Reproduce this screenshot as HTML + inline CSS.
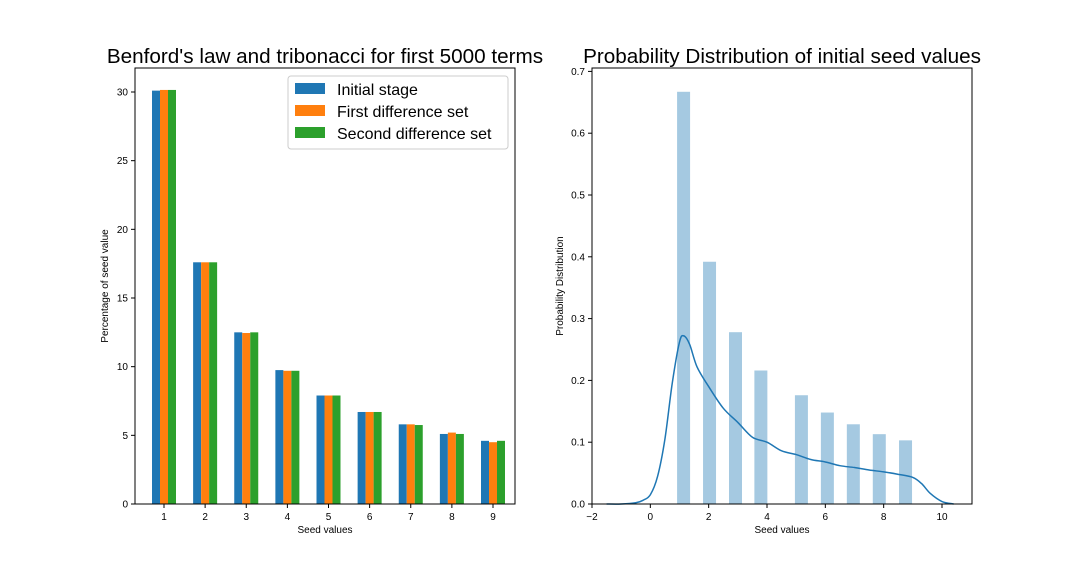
<!DOCTYPE html>
<html><head><meta charset="utf-8"><style>
body{margin:0;background:#fff;font-family:"Liberation Sans",sans-serif}
svg text{font-family:"Liberation Sans",sans-serif;fill:#000}
</style></head><body>
<svg id="c" width="1080" height="576"></svg>
<script>
const digits=[1,2,3,4,5,6,7,8,9];
const initialStage=[30.1,17.6,12.5,9.75,7.9,6.7,5.8,5.1,4.6];
const firstDiff=[30.15,17.6,12.45,9.7,7.9,6.7,5.8,5.2,4.5];
const secondDiff=[30.15,17.6,12.5,9.7,7.9,6.7,5.75,5.1,4.6];
const leftYTicks=[0,5,10,15,20,25,30];
const histCenters=[1.14,2.03,2.92,3.79,5.18,6.07,6.96,7.85,8.75];
const histHeights=[0.667,0.392,0.278,0.216,0.176,0.148,0.129,0.113,0.103];
const kdeX=[-1.5,-1,-0.5,-0.25,0,0.25,0.5,0.75,1,1.15,1.35,1.6,2,2.5,3,3.5,4,4.5,5,5.5,6,6.5,7,7.5,8,8.5,9,9.3,9.6,10,10.4];
const kdeY=[0,0,0.002,0.006,0.015,0.045,0.105,0.195,0.262,0.272,0.258,0.222,0.19,0.155,0.132,0.108,0.1,0.086,0.08,0.072,0.068,0.062,0.059,0.055,0.052,0.048,0.043,0.033,0.017,0.004,0];
const rightXTicks=[-2,0,2,4,6,8,10];
const rightYTicks=[0,0.1,0.2,0.3,0.4,0.5,0.6,0.7];

const NS="http://www.w3.org/2000/svg",svg=document.getElementById('c');
function el(t,a,p){const e=document.createElementNS(NS,t);for(const k in a)e.setAttribute(k,a[k]);(p||svg).appendChild(e);return e;}
function txt(s,a,p){const e=el('text',a,p);e.textContent=s;return e;}

const L={x0:135,x1:515,y0:504,y1:68};
const lx=v=>164+(v-1)*41.125;
const ly=v=>504-v*(412/30);
const lg=el('g',{});


const series=[[initialStage,'#1f77b4',-8],[firstDiff,'#ff7f0e',0],[secondDiff,'#2ca02c',8]];
series.forEach(([vals,col,off],si)=>{
  vals.forEach((v,i)=>{
    const r=el('rect',{x:lx(digits[i])+off-4,y:ly(v),width:8,height:ly(0)-ly(v),fill:col},lg);
    
    
  });
});
el('rect',{x:L.x0,y:L.y1,width:L.x1-L.x0,height:L.y0-L.y1,fill:'none',stroke:'#000','stroke-width':1},lg);
digits.forEach(d=>{el('line',{x1:lx(d),x2:lx(d),y1:504,y2:508,stroke:'#000'},lg);txt(d,{x:lx(d),y:520,'font-size':10,'text-anchor':'middle'},lg);});
leftYTicks.forEach(t=>{el('line',{x1:131,x2:135,y1:ly(t),y2:ly(t),stroke:'#000'},lg);txt(t,{x:128,y:ly(t)+3.5,'font-size':10,'text-anchor':'end'},lg);});
txt('Seed values',{x:325,y:533,'font-size':10,'text-anchor':'middle'},lg);
txt('Percentage of seed value',{x:108,y:286,'font-size':10,'text-anchor':'middle',transform:'rotate(-90 108 286)'},lg);
txt("Benford's law and tribonacci for first 5000 terms",{x:325,y:63,'font-size':20.7,'text-anchor':'middle'},lg);
const leg=el('g',{},lg);


el('rect',{x:288,y:76,width:220,height:73,rx:3,fill:'#fff',stroke:'#ccc'},leg);
['Initial stage','First difference set','Second difference set'].forEach((n,i)=>{
  el('rect',{x:295,y:83+i*22,width:30,height:11,fill:series[i][1]},leg);
  txt(n,{x:337,y:95+i*22,'font-size':16},leg);
});

const rx=v=>592+(v+2)*(350/12);
const ry=v=>504-v*(432.6/0.7);
const rg=el('g',{});


histCenters.forEach((c,i)=>{
  const r=el('rect',{x:rx(c)-6.5,y:ry(histHeights[i]),width:13,height:ry(0)-ry(histHeights[i]),fill:'#1f77b4','fill-opacity':0.4},rg);
  
  
});
const pts=kdeX.map((x,i)=>[rx(x),ry(kdeY[i])]);
let d='M'+pts[0].join(',');
for(let i=0;i<pts.length-1;i++){const p0=pts[Math.max(0,i-1)],p1=pts[i],p2=pts[i+1],p3=pts[Math.min(pts.length-1,i+2)];
d+=` C${p1[0]+(p2[0]-p0[0])/6},${p1[1]+(p2[1]-p0[1])/6} ${p2[0]-(p3[0]-p1[0])/6},${p2[1]-(p3[1]-p1[1])/6} ${p2[0]},${p2[1]}`;}
const kde=el('path',{d:d,fill:'none',stroke:'#1f77b4','stroke-width':1.5},rg);


el('rect',{x:592,y:68,width:380,height:436,fill:'none',stroke:'#000'},rg);
rightXTicks.forEach(t=>{el('line',{x1:rx(t),x2:rx(t),y1:504,y2:508,stroke:'#000'},rg);txt(t<0?'\u2212'+(-t):t,{x:rx(t),y:520,'font-size':10,'text-anchor':'middle'},rg);});
rightYTicks.forEach(t=>{el('line',{x1:588,x2:592,y1:ry(t),y2:ry(t),stroke:'#000'},rg);txt(t.toFixed(1),{x:585,y:ry(t)+3.5,'font-size':10,'text-anchor':'end'},rg);});
txt('Seed values',{x:782,y:533,'font-size':10,'text-anchor':'middle'},rg);
txt('Probability Distribution',{x:563,y:286,'font-size':10,'text-anchor':'middle',transform:'rotate(-90 563 286)'},rg);
txt('Probability Distribution of initial seed values',{x:782,y:63,'font-size':20.7,'text-anchor':'middle'},rg);
</script>
</body></html>
